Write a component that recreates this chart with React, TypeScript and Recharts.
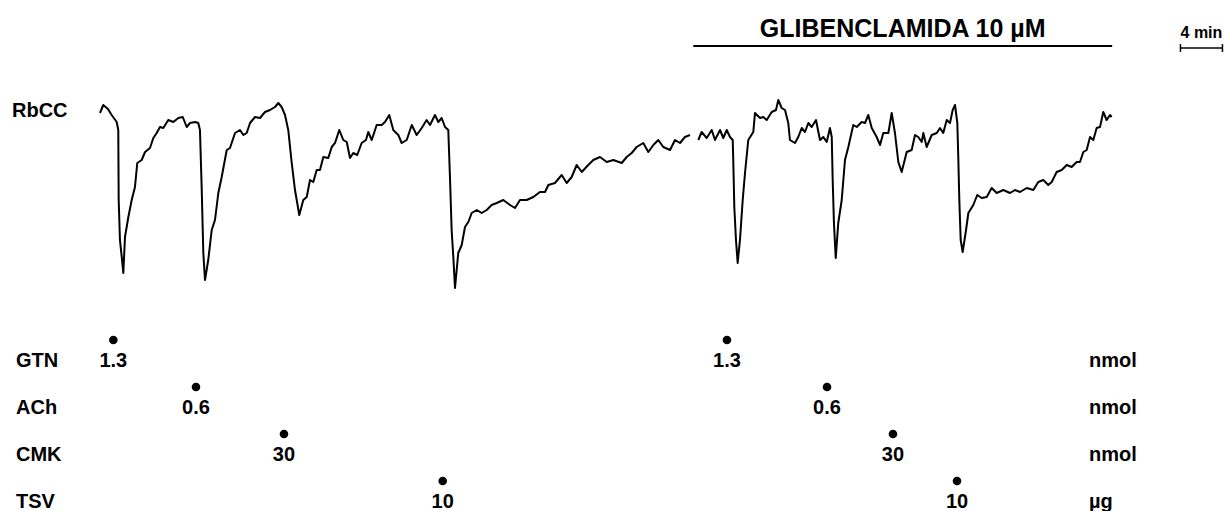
import React from "react";
import {
  ComposedChart,
  Line,
  Scatter,
  XAxis,
  YAxis,
  ReferenceLine,
} from "recharts";

// trace of RbCC tension (arbitrary units) against time in minutes
const TRACE: [number, number | null][] = [
  [0.0, 187], [0.31, 195], [0.76, 191], [1.11, 185], [1.59, 178], [1.74, 170], [1.78, 100], [1.9, 60], [2.07, 43], [2.22, 27],
  [2.38, 63], [2.7, 83], [3.02, 100], [3.33, 113], [3.55, 137], [3.97, 140], [4.29, 148], [4.76, 152], [5.08, 162], [5.4, 167],
  [5.71, 173], [6.03, 172], [6.5, 180], [6.98, 178], [7.46, 182], [7.88, 183], [8.26, 173], [8.57, 177], [9.05, 178], [9.36, 177],
  [9.52, 170], [9.69, 110], [9.84, 47], [10.0, 20], [10.31, 40], [10.64, 70], [10.95, 80], [11.27, 107], [11.59, 123], [12.07, 150],
  [12.38, 152], [12.86, 167], [13.33, 170], [13.65, 165], [13.97, 167], [14.29, 177], [14.76, 183], [15.24, 182], [15.71, 188], [16.19, 190],
  [16.67, 193], [16.98, 197], [17.3, 193], [17.62, 185], [17.93, 170], [18.26, 137], [18.57, 110], [18.98, 85], [19.36, 100], [19.69, 103],
  [20.0, 120], [20.31, 118], [20.64, 130], [20.95, 130], [21.27, 143], [21.74, 142], [22.07, 153], [22.38, 157], [22.79, 170], [23.17, 160],
  [23.5, 158], [23.81, 142], [24.12, 147], [24.5, 145], [24.92, 157], [25.33, 160], [25.55, 168], [25.88, 160], [26.35, 175], [26.83, 175],
  [27.14, 178], [27.55, 185], [27.93, 170], [28.41, 165], [28.73, 157], [29.21, 160], [29.69, 175], [30.16, 165], [30.64, 172], [31.11, 180],
  [31.43, 175], [31.9, 185], [32.22, 178], [32.54, 182], [32.86, 173], [33.17, 170], [33.33, 123], [33.49, 70], [33.65, 43], [33.81, 12],
  [34.12, 47], [34.45, 55], [34.76, 73], [35.08, 78], [35.4, 87], [35.88, 90], [36.35, 87], [36.83, 90], [37.3, 95], [37.78, 97],
  [38.41, 100], [39.05, 95], [39.52, 92], [40.0, 100], [40.64, 100], [41.27, 103], [41.9, 108], [42.38, 108], [42.7, 115], [43.33, 117],
  [43.97, 125], [44.45, 117], [44.92, 123], [45.4, 135], [45.88, 128], [46.5, 135], [46.98, 140], [47.62, 143], [48.26, 138], [48.89, 140],
  [49.69, 137], [50.16, 143], [50.64, 147], [51.11, 153], [51.74, 157], [52.22, 148], [52.7, 155], [53.17, 160], [53.65, 153], [54.29, 150],
  [54.76, 160], [55.24, 157], [55.71, 163], [56.19, 165], [56.6, null], [56.98, 160], [57.3, 168], [57.78, 162], [58.26, 170], [58.57, 160],
  [59.05, 170], [59.36, 162], [59.69, 170], [60.0, 163], [60.26, 160], [60.31, 140], [60.41, 93], [60.57, 60], [60.73, 37], [60.95, 60],
  [61.21, 100], [61.43, 127], [61.74, 160], [62.22, 168], [62.38, 187], [62.86, 182], [63.17, 183], [63.5, 180], [63.97, 188], [64.38, 190],
  [64.6, 200], [64.92, 192], [65.24, 190], [65.55, 177], [65.71, 160], [66.19, 157], [66.5, 163], [66.83, 172], [67.14, 168], [67.46, 177],
  [67.78, 173], [68.19, 180], [68.57, 160], [68.89, 163], [69.21, 158], [69.52, 172], [69.69, 163], [69.78, 120], [69.9, 77], [70.07, 42],
  [70.31, 77], [70.64, 100], [70.95, 140], [71.27, 153], [71.74, 175], [72.07, 173], [72.54, 178], [72.86, 177], [73.17, 185], [73.5, 172],
  [73.97, 163], [74.29, 155], [74.6, 167], [75.08, 167], [75.4, 187], [75.71, 167], [76.03, 138], [76.35, 128], [76.83, 148], [77.3, 150],
  [77.62, 165], [77.93, 163], [78.26, 158], [78.41, 167], [78.73, 153], [79.21, 165], [79.69, 167], [80.0, 172], [80.31, 167], [80.64, 180],
  [80.95, 177], [81.21, 190], [81.43, 195], [81.65, 177], [81.74, 143], [81.84, 100], [81.97, 60], [82.16, 48], [82.48, 70], [82.7, 87],
  [83.17, 95], [83.55, 105], [83.97, 102], [84.45, 103], [84.92, 112], [85.4, 107], [86.03, 110], [86.67, 107], [87.14, 110], [87.62, 108],
  [88.26, 112], [88.89, 110], [89.36, 118], [89.84, 120], [90.31, 115], [90.64, 118], [91.11, 128], [91.59, 130], [92.07, 135], [92.54, 133],
  [93.02, 138], [93.33, 138], [93.65, 148], [93.97, 150], [94.29, 163], [94.6, 160], [94.92, 172], [95.24, 173], [95.55, 188], [95.87, 180],
  [96.19, 185], [96.35, 183],
];

const DRUGS = ["GTN", "ACh", "CMK", "TSV"];
const UNITS = ["nmol", "nmol", "nmol", "µg"];
const DOSES = ["1.3", "0.6", "30", "10"];
const TIMES_CONTROL = [1.27, 9.14, 17.52, 32.64];
const TIMES_GLIB = [59.71, 69.24, 75.52, 81.62];

const GLIB_LABEL = "GLIBENCLAMIDA 10 µM";
const GLIB_START = 56.5;
const GLIB_END = 96.4;
const SCALE_START = 102.9;
const SCALE_MIN = 4;

// layout
const W = 1225;
const H = 511;
const PX_PER_MIN = 10.5;
const TRACE_X0 = 100;
const X_DOMAIN = [-TRACE_X0 / PX_PER_MIN, (W - TRACE_X0) / PX_PER_MIN];
const Y_DOMAIN = [300 - H, 300];
const ROW_Y0 = 340;
const ROW_STEP = 47;
const ROW_DOMAIN = [-ROW_Y0 / ROW_STEP, (H - ROW_Y0) / ROW_STEP];
const NAME_T = (16 - TRACE_X0) / PX_PER_MIN;
const UNIT_T = (1089 - TRACE_X0) / PX_PER_MIN;
const BAR_V = 254;

const FONT = "'Liberation Sans', Arial, Helvetica, sans-serif";
const textStyle = { fontFamily: FONT, fontWeight: 700, fontSize: 20, fill: "#000" };

const traceData = TRACE.map(([t, v]) => ({ t, v }));
const injections = [...TIMES_CONTROL, ...TIMES_GLIB].map((t, i) => ({
  t,
  row: i % 4,
  dose: DOSES[i % 4],
}));
const names = DRUGS.map((name, row) => ({ t: NAME_T, row, text: name }));
const units = UNITS.map((u, row) => ({ t: UNIT_T, row, text: u }));
const traceName = [{ t: (12 - TRACE_X0) / PX_PER_MIN, v: 190, text: "RbCC" }];

const DoseMark = (props: any) => {
  const { cx, cy, payload } = props;
  return (
    <g>
      <circle cx={cx} cy={cy} r={4.3} fill="#000" />
      <text x={cx} y={cy + 27} textAnchor="middle" style={textStyle}>
        {payload.dose}
      </text>
    </g>
  );
};

const RowText = (props: any) => {
  const { cx, cy, payload } = props;
  return (
    <text x={cx} y={cy + 27} textAnchor="start" style={textStyle}>
      {payload.text}
    </text>
  );
};

const MidText = (props: any) => {
  const { cx, cy, payload } = props;
  return (
    <text x={cx} y={cy + 7} textAnchor="start" style={textStyle}>
      {payload.text}
    </text>
  );
};

export default function App() {
  return (
    <div style={{ position: "absolute", left: 0, top: 0, width: W, height: H, background: "#fff" }}>
      <ComposedChart width={W} height={H} data={traceData} margin={{ top: 0, right: 0, bottom: 0, left: 0 }}>
        <XAxis type="number" dataKey="t" domain={X_DOMAIN} allowDataOverflow hide />
        <YAxis yAxisId="trace" type="number" domain={Y_DOMAIN} allowDataOverflow hide />
        <YAxis yAxisId="rows" type="number" domain={ROW_DOMAIN} reversed allowDataOverflow hide />

        <Line
          yAxisId="trace"
          type="linear"
          dataKey="v"
          stroke="#000"
          strokeWidth={2}
          strokeLinejoin="round"
          dot={false}
          activeDot={false}
          connectNulls={false}
          isAnimationActive={false}
        />

        <ReferenceLine
          yAxisId="trace"
          segment={[{ x: GLIB_START, y: BAR_V }, { x: GLIB_END, y: BAR_V }]}
          stroke="#000"
          strokeWidth={2}
          label={{ value: GLIB_LABEL, position: "top", offset: 9, fill: "#000", fontSize: 25, fontWeight: 700, fontFamily: FONT }}
        />
        <ReferenceLine
          yAxisId="trace"
          segment={[{ x: SCALE_START, y: BAR_V - 2 }, { x: SCALE_START + SCALE_MIN, y: BAR_V - 2 }]}
          stroke="#000"
          strokeWidth={1.5}
          label={{ value: `${SCALE_MIN} min`, position: "top", offset: 10, fill: "#000", fontSize: 16, fontWeight: 700, fontFamily: FONT }}
        />
        <ReferenceLine
          yAxisId="trace"
          segment={[{ x: SCALE_START, y: BAR_V + 2 }, { x: SCALE_START, y: BAR_V - 6 }]}
          stroke="#000"
          strokeWidth={1.5}
        />
        <ReferenceLine
          yAxisId="trace"
          segment={[{ x: SCALE_START + SCALE_MIN, y: BAR_V + 2 }, { x: SCALE_START + SCALE_MIN, y: BAR_V - 6 }]}
          stroke="#000"
          strokeWidth={1.5}
        />

        <Scatter yAxisId="rows" data={injections} dataKey="row" shape={DoseMark} isAnimationActive={false} />
        <Scatter yAxisId="rows" data={names} dataKey="row" shape={RowText} isAnimationActive={false} />
        <Scatter yAxisId="rows" data={units} dataKey="row" shape={RowText} isAnimationActive={false} />
        <Scatter yAxisId="trace" data={traceName} dataKey="v" shape={MidText} isAnimationActive={false} />
      </ComposedChart>
    </div>
  );
}
